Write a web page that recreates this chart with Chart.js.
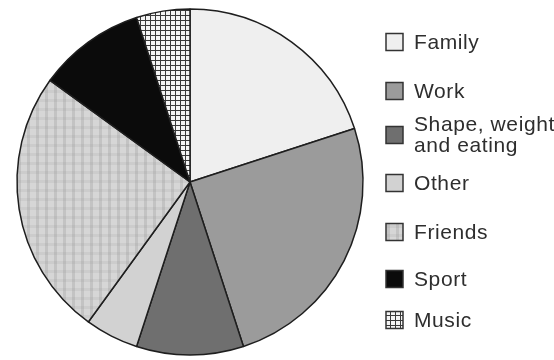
<!DOCTYPE html>
<html>
<head>
<meta charset="utf-8">
<script src="https://cdn.jsdelivr.net/npm/chart.js@4.4.0/dist/chart.umd.min.js"></script>
<style>
  html, body { margin: 0; padding: 0; background: #fff; }
  #chart { display: block; }
</style>
</head>
<body>
<canvas id="chart" width="554" height="360"></canvas>
<script>
// Share of worries, clockwise from 12 o'clock
const labels = ['Family', 'Work', ['Shape, weight', 'and eating'], 'Other', 'Friends', 'Sport', 'Music'];
const shares = [20, 25, 10, 5, 25, 10, 5];

const ctx = document.getElementById('chart').getContext('2d');

// small tiles used as fills
function makePattern(w, h, draw) {
  const c = document.createElement('canvas');
  c.width = w; c.height = h;
  const g = c.getContext('2d');
  draw(g, w, h);
  return ctx.createPattern(c, 'repeat');
}

const gridFill = makePattern(5, 5, (g, w, h) => {
  g.fillStyle = '#f4f4f4';
  g.fillRect(0, 0, w, h);
  g.fillStyle = '#3a3a3a';
  g.fillRect(0, 0, w, 1);
  g.fillRect(0, 0, 1, h);
});

// soft plaid: stronger vertical bands, faint horizontal ones
const plaidFill = makePattern(9, 9, (g, w, h) => {
  g.fillStyle = '#d6d6d6';
  g.fillRect(0, 0, w, h);
  g.fillStyle = 'rgba(160,160,160,0.35)';
  g.fillRect(0, 0, 3, h);
  g.fillStyle = 'rgba(160,160,160,0.18)';
  g.fillRect(0, 0, w, 3);
});

const fills = ['#efefef', '#9b9b9b', '#6f6f6f', '#d2d2d2', plaidFill, '#0b0b0b', gridFill];

// legend drawn at the right side of the canvas
const sideLegend = {
  id: 'sideLegend',
  afterDraw(chart) {
    const c = chart.ctx;
    const ds = chart.data.datasets[0];
    const rows = [42, 91, 135, 183, 232, 279, 320];
    const x = 386, box = 17, lineH = 21;
    c.save();
    c.font = '21px "Liberation Sans", Arial, sans-serif';
    c.letterSpacing = '0.6px';
    c.textBaseline = 'middle';
    chart.data.labels.forEach((lab, i) => {
      const y = rows[i];
      c.fillStyle = ds.backgroundColor[i];
      c.fillRect(x, y - box / 2, box, box);
      c.lineWidth = 1.5;
      c.strokeStyle = '#333';
      c.strokeRect(x, y - box / 2, box, box);
      c.fillStyle = '#2e2e2e';
      const lines = Array.isArray(lab) ? lab : [lab];
      const top = y - (lines.length - 1) * lineH / 2;
      lines.forEach((t, j) => c.fillText(t, x + 28, top + j * lineH + 1));
    });
    c.restore();
  }
};

new Chart(ctx, {
  type: 'pie',
  data: {
    labels: labels,
    datasets: [{
      data: shares,
      backgroundColor: fills,
      borderColor: '#1e1e1e',
      borderWidth: 1.5,
      hoverOffset: 0,
      radius: 173
    }]
  },
  options: {
    responsive: false,
    animation: false,
    events: [],
    layout: { padding: { left: 0, right: 174, top: 4, bottom: 0 } },
    plugins: {
      legend: { display: false },
      tooltip: { enabled: false }
    }
  },
  plugins: [sideLegend]
});
</script>
</body>
</html>
